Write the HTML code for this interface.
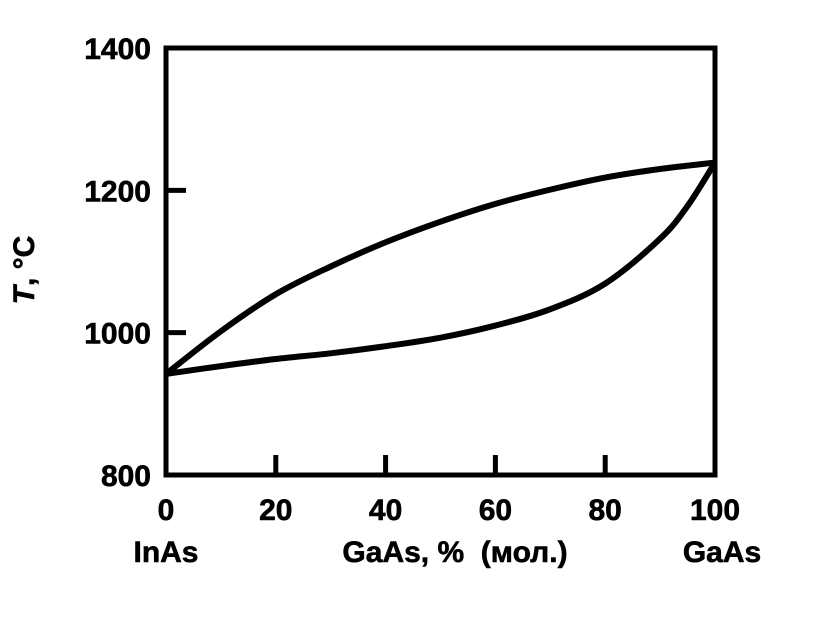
<!DOCTYPE html>
<html><head><meta charset="utf-8"><style>
body{margin:0;background:#fff;}
svg text{font-family:"Liberation Sans",sans-serif;font-weight:bold;fill:#000;stroke:#000;stroke-width:0.6;}
</style></head><body>
<svg id="chart" width="817" height="612" xmlns="http://www.w3.org/2000/svg">
<rect x="166" y="48" width="549" height="427" fill="none" stroke="#000" stroke-width="5"/>
<g id="axes"></g>
<g id="series"></g>
<text x="34" y="270" font-size="30" text-anchor="middle" transform="rotate(-90 34 270)"><tspan font-style="italic">T</tspan>, °C</text>
<text x="166" y="562" font-size="30" text-anchor="middle">InAs</text>
<text x="455" y="562" font-size="30" text-anchor="middle" xml:space="preserve">GaAs, %  (мол.)</text>
<text x="722" y="562" font-size="30" text-anchor="middle">GaAs</text>
</svg>
<script>
const xTicks=[0,20,40,60,80,100];
const yTicks=[800,1000,1200,1400];
const liquidusX=[0,10,20,30,40,50,60,70,80,90,100];
const liquidusT=[942,1002,1054,1093,1127,1156,1181,1201,1218,1230,1239];
const solidusX=[0,10,20,30,40,50,60,70,80,90,95,100];
const solidusT=[942,953,963,971,981,993,1010,1033,1069,1132,1178,1239];
const NS="http://www.w3.org/2000/svg";
const sx=v=>166+v*5.49;
const sy=t=>475-(t-800)*(427/600);
const axes=document.getElementById('axes');
const ser=document.getElementById('series');
function mk(tag,attrs,parent){const e=document.createElementNS(NS,tag);for(const k in attrs)e.setAttribute(k,attrs[k]);parent.appendChild(e);return e;}
xTicks.forEach(v=>{
  if(v>0&&v<100){const l=mk('line',{x1:sx(v),x2:sx(v),y1:475,y2:455,stroke:'#000','stroke-width':5},axes);
  
  }
  const t=mk('text',{x:sx(v),y:520,'font-size':30,'text-anchor':'middle'},axes);t.textContent=v;
  
  
});
yTicks.forEach(v=>{
  if(v>800&&v<1400){const l=mk('line',{x1:166,x2:186,y1:sy(v),y2:sy(v),stroke:'#000','stroke-width':5},axes);
  
  }
  const t=mk('text',{x:151,y:sy(v)+11,'font-size':30,'text-anchor':'end'},axes);t.textContent=v;
  
  
});
function path(xs,ts){
  const p=xs.map((x,i)=>[sx(x),sy(ts[i])]);
  let d='M'+p[0][0]+','+p[0][1];
  for(let i=0;i<p.length-1;i++){
    const p0=p[i-1]||p[i],p1=p[i],p2=p[i+1],p3=p[i+2]||p2;
    d+=' C'+(p1[0]+(p2[0]-p0[0])/6)+','+(p1[1]+(p2[1]-p0[1])/6)+' '+(p2[0]-(p3[0]-p1[0])/6)+','+(p2[1]-(p3[1]-p1[1])/6)+' '+p2[0]+','+p2[1];
  }
  return d;
}
const l1=mk('path',{d:path(liquidusX,liquidusT),fill:'none',stroke:'#000','stroke-width':6},ser);


const l2=mk('path',{d:path(solidusX,solidusT),fill:'none',stroke:'#000','stroke-width':6},ser);


</script>
</body></html>
